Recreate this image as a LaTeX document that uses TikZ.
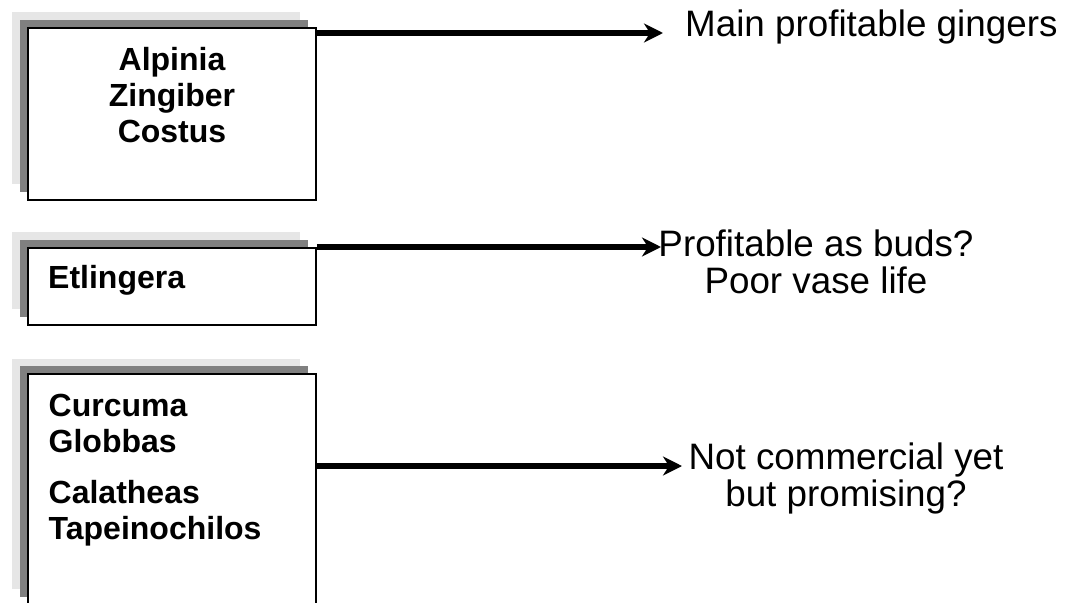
\documentclass[tikz,border=0pt]{standalone}
\usepackage{fontspec}
\setmainfont{Liberation Sans}
\usetikzlibrary{arrows.meta,calc}
\definecolor{shlight}{RGB}{230,230,230}
\definecolor{shdark}{RGB}{128,128,128}
\begin{document}
\begin{tikzpicture}[x=1pt,y=-1pt,
  lightsh/.style={fill=shlight, draw=none},
  darksh/.style={fill=shdark, draw=none},
  box/.style={draw=black, line width=1.6pt, fill=white, inner sep=0pt, minimum width=288pt},
  boxtxt/.style={font=\fontsize{32}{36}\selectfont\bfseries, inner sep=0pt},
  note/.style={font=\fontsize{36.8}{37}\selectfont, inner sep=0pt, align=center},
  arr/.style={line width=5.5pt, -{Stealth[length=19pt,width=19pt,inset=6pt]}}]
\clip (0,0) rectangle (1070,602);
\useasboundingbox (0,0) rectangle (1070,602);
% shadows
\fill[lightsh] (12,12) rectangle (300,184);
\fill[darksh] (20,20) rectangle (308,192);
\fill[lightsh] (12,232) rectangle (300,309);
\fill[darksh] (20,240) rectangle (308,317);
\fill[lightsh] (12,359) rectangle (300,589);
\fill[darksh] (20,366) rectangle (308,597);
% boxes
\node[box, minimum height=172pt] (b1) at (172,114) {};
\node[box, minimum height=77pt] (b2) at (172,286.5) {};
\node[box, minimum height=231pt] (b3) at (172,489.5) {};
% box texts (base anchor = last line)
\node[boxtxt, align=center, anchor=base] (l1) at (172,142) {Alpinia\\Zingiber\\Costus};
\node[boxtxt, anchor=base west] (l2) at (48,288) {Etlingera};
\node[boxtxt, align=left, anchor=base west] (l3) at (48.5,539) {Curcuma\\Globbas\\[15pt]Calatheas\\Tapeinochilos};
% notes
\node[note, anchor=base west] (t1) at (685,37) {Main profitable gingers};
\node[note, anchor=base] (t2) at (816,293) {Profitable as buds?\\Poor vase life};
\node[note, anchor=base] (t3) at (846,506) {Not commercial yet\\but promising?};
% arrows
\coordinate (e1) at (663,33);
\coordinate (e2) at (661,247);
\coordinate (e3) at (682,466);
\draw[arr] (b1.east |- e1) -- (e1);
\draw[arr] (b2.east |- e2) -- (e2);
\draw[arr] (b3.east |- e3) -- (e3);
\end{tikzpicture}
\end{document}
